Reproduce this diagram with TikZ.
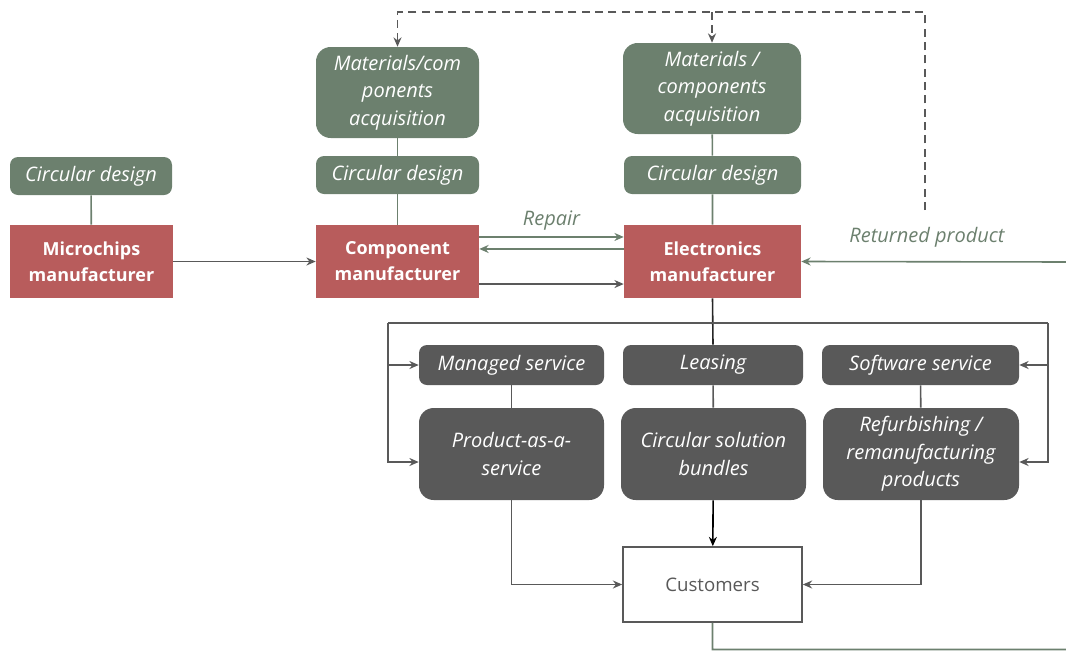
\documentclass[tikz,border=0pt]{standalone}
\usepackage{fontspec}
\setmainfont{Open Sans}
\usetikzlibrary{arrows.meta, positioning}
\definecolor{sage}{RGB}{108,128,110}
\definecolor{brick}{RGB}{184,92,92}
\definecolor{slate}{RGB}{89,89,89}
\newcommand{\diagfont}{\fontsize{15}{20.5}\selectfont}
\newcommand{\makerfont}{\fontsize{13.5}{19.5}\selectfont}
\tikzstyle{arrow} = [line width=1.2pt, -{Stealth[length=7pt, width=6pt]}]
\tikzstyle{link} = [line width=1.2pt]

\begin{document}
\begin{tikzpicture}[x=0.75pt, y=-0.75pt,
    design/.style={rectangle, rounded corners=6pt, fill=sage, text=white, font=\diagfont\itshape, inner sep=0pt, minimum height=28.5pt},
    acquire/.style={rectangle, rounded corners=11pt, fill=sage, text=white, font=\diagfont\itshape, inner sep=0pt, minimum height=68.25pt, align=center},
    maker/.style={rectangle, fill=brick, text=white, font=\makerfont\bfseries, inner sep=0pt, minimum width=122.25pt, minimum height=54.75pt, align=center},
    offer/.style={rectangle, rounded corners=6pt, fill=slate, text=white, font=\diagfont\itshape, inner sep=0pt, minimum height=30pt},
    bundle/.style={rectangle, rounded corners=11pt, fill=slate, text=white, font=\diagfont\itshape, inner sep=0pt, minimum height=69pt, align=center},
    label/.style={font=\diagfont\itshape, text=sage},
]
\useasboundingbox (0,0) rectangle (1066,650);

% Supply chain
\node[design, minimum width=121.5pt] (mdes) at (91,176) {Circular design};
\node[maker] (mmfr) at (91.5,261.5) {Microchips\\manufacturer};

\node[acquire, minimum width=122.25pt] (cmat) at (397.5,92.5) {Materials/com\\ponents\\acquisition};
\node[design, minimum width=122.25pt] (cdes) at (397.5,175) {Circular design};
\node[maker] (cmfr) at (397.5,261.5) {Component\\manufacturer};

\node[acquire, minimum width=133.5pt] (emat) at (712,88.5) {Materials /\\components\\acquisition};
\node[design, minimum width=132.75pt] (edes) at (712.5,175) {Circular design};
\node[maker, minimum width=132.75pt] (emfr) at (712.5,261.5) {Electronics\\manufacturer};

% Business models
\node[offer, minimum width=138.75pt] (managed) at (511.5,365) {Managed service};
\node[offer, minimum width=135pt] (lease) at (713,365) {Leasing};
\node[offer, minimum width=147.75pt] (soft) at (920.5,365) {Software service};
\node[bundle, minimum width=138.75pt] (paas) at (511.5,454) {Product-as-a-\\service};
\node[bundle, minimum width=138.75pt] (bundles) at (713.5,454) {Circular solution\\bundles};
\node[bundle, minimum width=147pt] (refurb) at (921,454) {Refurbishing /\\remanufacturing\\products};

\node[rectangle, draw=slate, line width=1.2pt, fill=white, text=slate, font=\fontsize{14}{18}\selectfont, minimum width=134.25pt, minimum height=56.25pt] (cust) at (712.5,584.5) {Customers};

% Design links
\draw[link, sage] (mdes) -- (mmfr);
\draw[link, sage] (cmat) -- (cdes) -- (cmfr);
\draw[link, sage] (emat) -- (edes) -- (emfr);

% Flows between manufacturers
\draw[arrow, slate] (mmfr) -- (cmfr);
\draw[arrow, sage] ([yshift=18.4pt]cmfr.east) -- ([yshift=18.4pt]emfr.west)
    node[midway, above=1pt, label] {Repair};
\draw[arrow, sage] ([yshift=9.4pt]emfr.west) -- ([yshift=9.4pt]cmfr.east);
\draw[arrow, slate] ([yshift=-16.9pt]cmfr.east) -- ([yshift=-16.9pt]emfr.west);

% Returned product loop
\draw[arrow, sage] (cust.south) -- (712.5,649.5) -| (1072,262) -- (emfr.east);
\node[label] (ret) at (927,237) {Returned product};

% Dashed feedback
\coordinate (dstart) at (925,210);
\coordinate (dtop) at (925,12);
\draw[arrow, slate, dashed, dash pattern=on 6pt off 4pt] (dstart) -- (dtop) -| (cmat.north);
\draw[arrow, slate, dashed, dash pattern=on 6pt off 4pt] (emat.north |- dtop) -- (emat.north);

% Service bus
\coordinate (lbus) at (388,323);
\coordinate (rbus) at (1048,323);
\draw[link, black!85] (emfr.south) -- (lease.north);
\draw[link, slate] (lbus) -- (rbus);
\draw[arrow, slate] (lbus) |- (managed.west);
\draw[arrow, slate] (lbus) |- ([yshift=-6pt]paas.west);
\draw[arrow, slate] (rbus) |- (soft.east);
\draw[arrow, slate] (rbus) |- ([yshift=-6pt]refurb.east);

% Offers to customers
\draw[link, slate] (managed) -- (paas);
\draw[link, slate] (lease) -- (bundles);
\draw[link, slate] (soft) -- (refurb);
\draw[arrow, slate] (paas.south) |- (cust.west);
\draw[arrow, black] (bundles) -- (cust);
\draw[arrow, slate] (refurb.south) |- (cust.east);

\end{tikzpicture}
\end{document}
